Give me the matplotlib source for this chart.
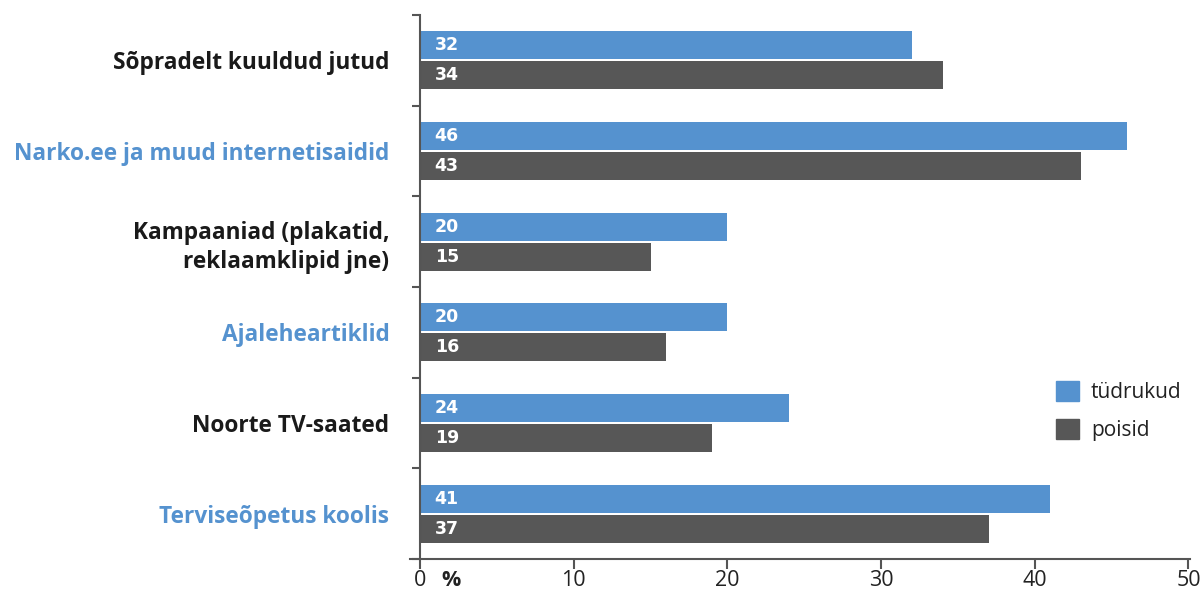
import matplotlib.pyplot as plt
from matplotlib.patches import Patch
import numpy as np

plt.rcParams['font.family'] = ['Open Sans', 'DejaVu Sans']

# data
categories = ['Sõpradelt kuuldud jutud', 'Narko.ee ja muud internetisaidid',
              'Kampaaniad (plakatid,\nreklaamklipid jne)', 'Ajaleheartiklid',
              'Noorte TV-saated', 'Terviseõpetus koolis']
label_colors = ['#1a1a1a', '#5592cf', '#1a1a1a', '#5592cf', '#1a1a1a', '#5592cf']
tudrukud = [32, 46, 20, 20, 24, 41]
poisid = [34, 43, 15, 16, 19, 37]
xticks = [0, 10, 20, 30, 40, 50]

blue = '#5592cf'
gray = '#575757'
axis_col = '#555555'

fig = plt.figure(figsize=(12.04, 5.99), dpi=100)
ax = fig.add_axes([410 / 1204, 40 / 599, 780 / 1204, 544 / 599])

y = np.arange(len(categories))
h = 0.31
off = 0.165
ax.barh(y - off, tudrukud, height=h, color=blue, label='tüdrukud')
ax.barh(y + off, poisid, height=h, color=gray, label='poisid')

# value labels inside bars
for i in range(len(categories)):
    ax.annotate(str(tudrukud[i]), xy=(0, y[i] - off), xytext=(10.5, 0),
                textcoords='offset points', va='center', ha='left',
                color='white', fontsize=12.5, fontweight='bold', family='DejaVu Sans')
    ax.annotate(str(poisid[i]), xy=(0, y[i] + off), xytext=(10.5, 0),
                textcoords='offset points', va='center', ha='left',
                color='white', fontsize=12.5, fontweight='bold', family='DejaVu Sans')

ax.set_xlim(-0.65, 50.1)
ax.set_ylim(len(categories) - 0.5, -0.5)

for s in ['top', 'right']:
    ax.spines[s].set_visible(False)
ax.spines['left'].set_position(('data', 0))
ax.spines['left'].set_color(axis_col)
ax.spines['bottom'].set_color(axis_col)
ax.spines['left'].set_linewidth(1.5)
ax.spines['bottom'].set_linewidth(1.5)

ax.set_xticks(xticks)
ax.set_xticklabels([str(t) for t in xticks])
ax.tick_params(axis='x', direction='out', length=7.2, width=1.5, color=axis_col,
               labelsize=15.5, labelcolor='#222222', pad=0.5)

ax.set_yticks(y)
ax.set_yticklabels(categories, fontweight='bold', fontsize=16.3, linespacing=1.3)
for lbl, c in zip(ax.get_yticklabels(), label_colors):
    lbl.set_color(c)
ax.set_yticks(np.arange(-0.5, len(categories), 1.0), minor=True)
ax.tick_params(axis='y', which='major', length=0, pad=22)
ax.tick_params(axis='y', which='minor', length=6, width=1.5, color=axis_col)

ax.annotate('%', xy=(0, 0), xycoords=('data', 'axes fraction'), xytext=(22, -7.7),
            textcoords='offset points', ha='center', va='top',
            fontsize=15.5, fontweight='bold', color='#222222')

handles = [Patch(color=blue, label='tüdrukud'), Patch(color=gray, label='poisid')]
ax.legend(handles=handles, loc='upper left', bbox_to_anchor=(1046 / 1204, 1 - 371 / 599),
          bbox_transform=fig.transFigure, frameon=False, fontsize=15,
          handlelength=1.1, handleheight=1.1, handletextpad=0.55, labelspacing=0.75,
          borderpad=0, labelcolor='#222222')

fig.savefig('out.png', dpi=100)
